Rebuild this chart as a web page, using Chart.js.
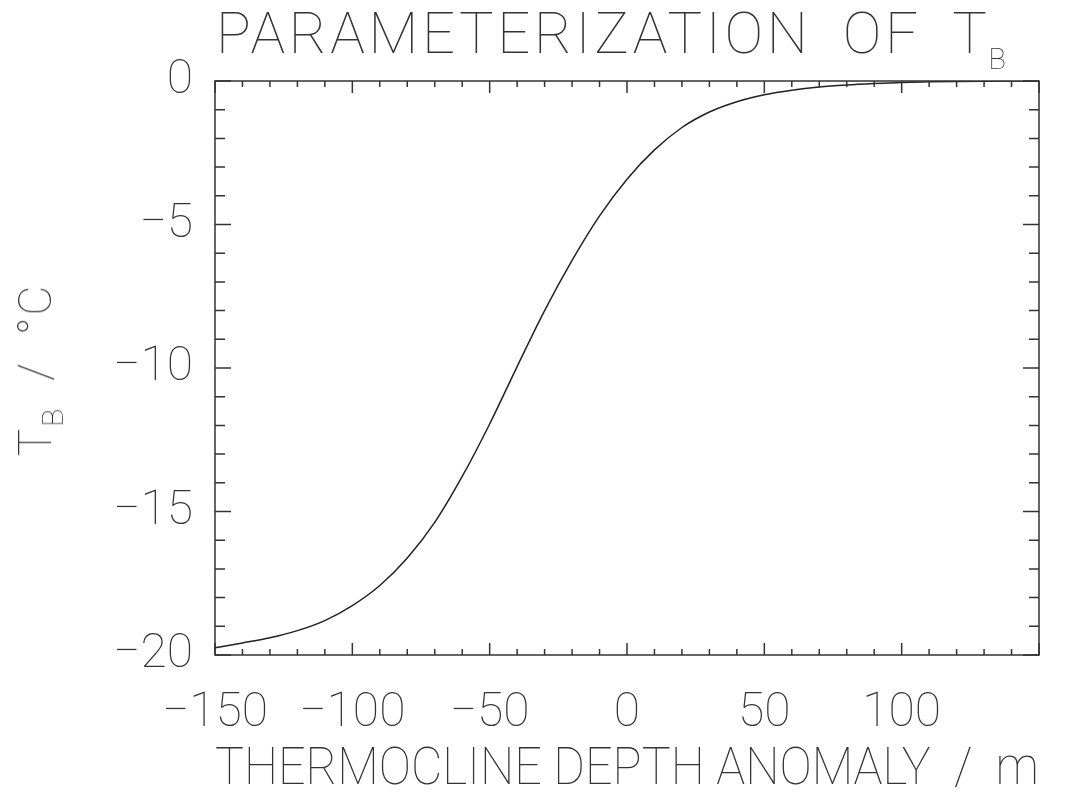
<!DOCTYPE html>
<html>
<head>
<meta charset="utf-8">
<script src="https://cdn.jsdelivr.net/npm/chart.js@4"></script>
<style>
  body { margin: 0; background: #fff; }
  #wrap { position: relative; width: 1079px; height: 804px; overflow: hidden; }
  #title {
    position: absolute; left: 216px; top: 4px;
    font-family: Roboto, sans-serif; font-weight: 100; font-size: 58px; line-height: 1;
    color: #333; white-space: nowrap; letter-spacing: 3.6px; word-spacing: 14px;
  }
  #title sub { font-size: 29px; vertical-align: -16px; margin-left: -2px; letter-spacing: 0; }
  #ylab {
    position: absolute; left: 40px; top: 370px;
    transform: translate(-50%, -50%) rotate(-90deg);
    font-family: Roboto, sans-serif; font-weight: 100; font-size: 46px; line-height: 1;
    color: #333; white-space: nowrap; letter-spacing: 2px;
  }
  #ylab sub { font-size: 30px; vertical-align: -12px; }
</style>
</head>
<body>
<div id="wrap">
  <canvas id="tb_chart" width="1079" height="804"></canvas>
  <div id="title">PARAMETERIZATION OF T<sub>B</sub></div>
  <div id="ylab">T<sub>B</sub> &nbsp;/ &nbsp;°C</div>
</div>
<script>
// thermocline depth anomaly (m)
var depth = [-150, -140, -130, -120, -110, -100, -90, -80, -70, -60, -50, -40, -30, -20, -10,
             0, 10, 20, 30, 40, 50, 60, 70, 80, 90, 100, 110, 120, 130, 140, 150];
// parameterized T_B (deg C)
var tb = [-19.75, -19.58, -19.40, -19.15, -18.80, -18.28, -17.58, -16.62, -15.38, -13.78, -11.95, -9.95, -8.00, -6.25, -4.70,
          -3.42, -2.40, -1.62, -1.08, -0.72, -0.48, -0.32, -0.21, -0.14, -0.09, -0.05, -0.03, -0.015, -0.007, -0.003, 0];

var xTickLabels = [-150, -100, -50, 0, 50, 100];
var yTickLabels = [-20, -15, -10, -5, 0];

var ink = '#333';

function minus(v) {
  return v < 0 ? '\u2212' + Math.abs(v) : String(v);
}

// IDL style frame with inward ticks on all four sides
var framePlugin = {
  id: 'frame',
  afterDatasetsDraw: function(chart) {
    var ctx = chart.ctx;
    var a = chart.chartArea;
    var xs = chart.scales.x, ys = chart.scales.y;
    ctx.save();
    ctx.strokeStyle = ink;
    ctx.lineWidth = 1.5;
    ctx.strokeRect(a.left, a.top, a.right - a.left, a.bottom - a.top);
    ctx.beginPath();
    for (var v = -150; v <= 150; v += 10) {
      var px = xs.getPixelForValue(v);
      var len = (v % 50 === 0) ? 12 : 6;
      ctx.moveTo(px, a.bottom); ctx.lineTo(px, a.bottom - len);
      ctx.moveTo(px, a.top); ctx.lineTo(px, a.top + len);
    }
    for (var w = -20; w <= 0; w += 1) {
      var py = ys.getPixelForValue(w);
      var l2 = (w % 5 === 0) ? 16 : 10;
      ctx.moveTo(a.left, py); ctx.lineTo(a.left + l2, py);
      ctx.moveTo(a.right, py); ctx.lineTo(a.right - l2, py);
    }
    ctx.stroke();
    ctx.restore();
  }
};

var points = [];
for (var i = 0; i < depth.length; i++) {
  points.push({x: depth[i], y: tb[i]});
}

var ctx = document.getElementById('tb_chart').getContext('2d');
new Chart(ctx, {
  type: 'scatter',
  data: {
    datasets: [{
      data: points,
      showLine: true,
      borderColor: '#222',
      borderWidth: 1.5,
      pointRadius: 0,
      cubicInterpolationMode: 'monotone',
      fill: false
    }]
  },
  options: {
    responsive: false,
    animation: false,
    devicePixelRatio: 1,
    layout: { padding: { top: 81, right: 40, left: 0, bottom: 0 } },
    plugins: { legend: { display: false }, tooltip: { enabled: false } },
    scales: {
      x: {
        type: 'linear', min: -150, max: 150,
        afterFit: function(s) { s.height = 149; },
        afterBuildTicks: function(s) {
          s.ticks = xTickLabels.map(function(v) { return {value: v}; });
        },
        grid: { display: false, drawTicks: false },
        border: { display: false },
        ticks: {
          padding: 30, color: ink, maxRotation: 0, autoSkip: false,
          font: { family: 'Roboto', weight: 100, size: 48 },
          callback: function(v) { return minus(v); }
        },
        title: {
          display: true, text: 'THERMOCLINE DEPTH ANOMALY  /  m', color: ink,
          font: { family: 'Roboto', weight: 100, size: 51 },
          padding: { top: 0, bottom: 2 }
        }
      },
      y: {
        type: 'linear', min: -20, max: 0,
        afterFit: function(s) { s.width = 215; },
        afterBuildTicks: function(s) {
          s.ticks = yTickLabels.map(function(v) { return {value: v}; });
        },
        grid: { display: false, drawTicks: false },
        border: { display: false },
        ticks: {
          padding: 22, color: ink, autoSkip: false,
          font: { family: 'Roboto', weight: 100, size: 48 },
          callback: function(v) { return minus(v); }
        }
      }
    }
  },
  plugins: [framePlugin]
});
</script>
</body>
</html>
